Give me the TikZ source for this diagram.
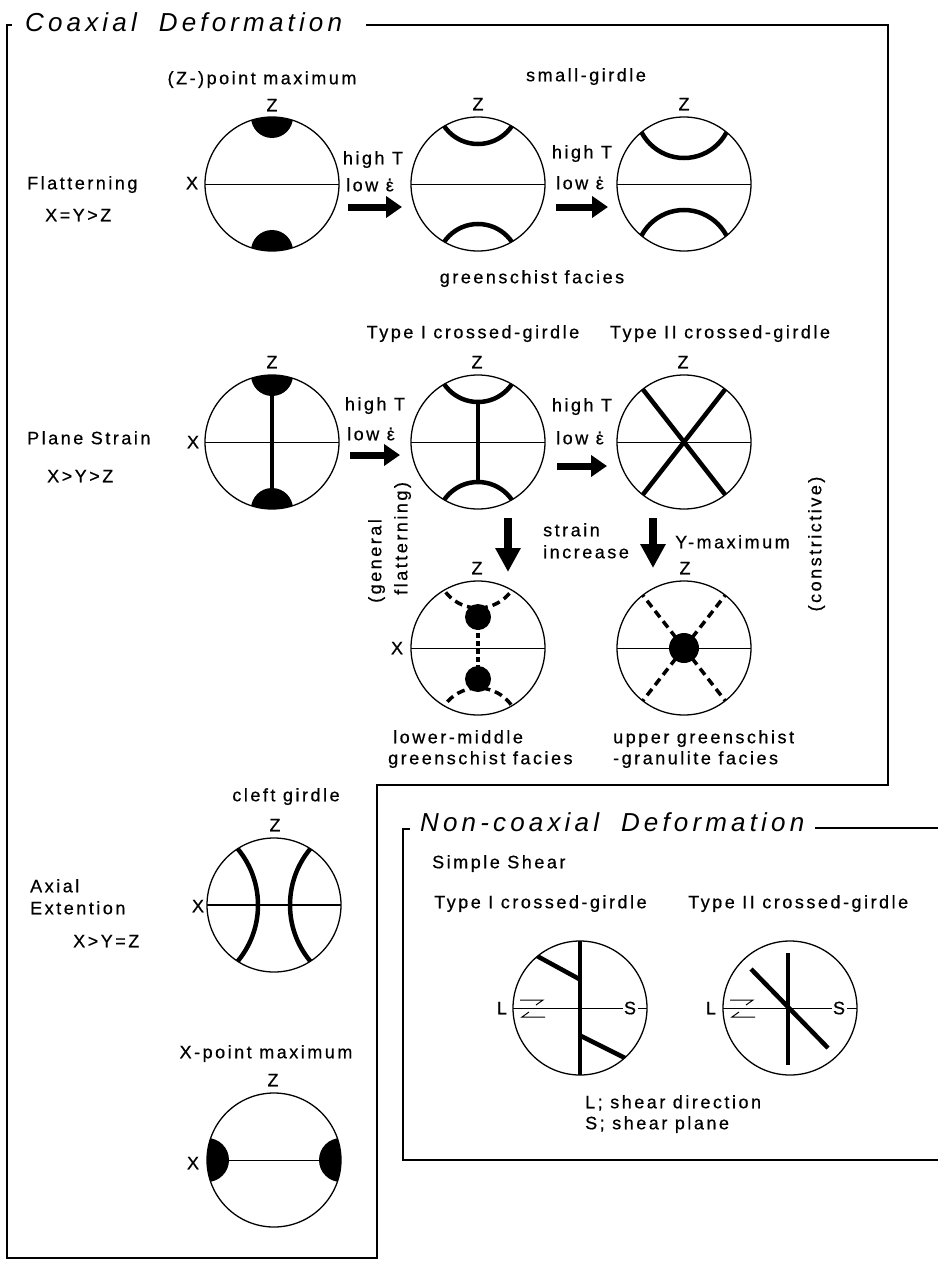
\documentclass[tikz,border=0pt]{standalone}
\usepackage{fontspec}
\setmainfont{Liberation Sans}
\newfontfamily\lab[LetterSpace=14,FakeBold=0.6]{Liberation Sans}
\newfontfamily\ttlfont[LetterSpace=16]{Liberation Sans}
\usetikzlibrary{calc,arrows.meta}
\newcommand\edot{\ooalign{ε\cr\hidewidth\raisebox{0.6em}{.}\hidewidth\cr}}
\newcommand\clipc[1]{\clip (#1.center) circle (67pt);}
\begin{document}
\begin{tikzpicture}[x=1pt,y=-1pt,
  frame/.style={line width=2.2pt},
  stereo/.style={circle,draw,line width=1.3pt,minimum size=134pt,inner sep=0pt,outer sep=0pt},
  diam/.style={line width=1pt},
  girdle/.style={line width=4.5pt},
  dgirdle/.style={line width=3.5pt,dash pattern=on 8pt off 5pt},
  bigarrow/.style={line width=7pt,-{Triangle[length=16pt,width=21pt]}},
  downarrow/.style={line width=8pt,-{Triangle[length=24pt,width=24pt]}},
  lbl/.style={font=\lab\fontsize{18pt}{20pt}\selectfont,inner sep=0pt,text height=12.5pt,text depth=0pt},
  ttl/.style={font=\ttlfont\itshape\fontsize{26pt}{28pt}\selectfont,inner sep=0pt,text height=18.6pt,text depth=0pt},
  harp/.style={line width=1pt}]
\useasboundingbox (0,0) rectangle (938,1263);

% ---------- frames ----------
\node[ttl,anchor=west] (tco) at (25,22) {Coaxial\hspace{22pt}Deformation};
\draw[frame] (366,25) -- (888,25) -- (888,785) -- (377,785) -- (377,1258) -- (7,1258) -- (7,25) -- (12,25);
\node[ttl,anchor=west] (tnc) at (420,822) {Non-coaxial\hspace{22pt}Deformation};
\draw[frame] (815,828) -- (938,828);
\draw[frame] (410,829) -- (403,829) -- (403,1160) -- (938,1160);

% ---------- row 1 ----------
\node[stereo] (c1) at (272,184) {};
\node[stereo] (c2) at (478,184) {};
\node[stereo] (c3) at (684,184) {};
\begin{scope}\clipc{c1}
  \draw[diam] (c1.west) -- (c1.east);
  \fill (c1.north) circle (21pt);
  \fill (c1.south) circle (21pt);
\end{scope}
\begin{scope}\clipc{c2}
  \draw[diam] (c2.west) -- (c2.east);
  \draw[girdle] ($(c2.north)+(0,-14)$) circle (41pt);
  \draw[girdle] ($(c2.south)+(0,14)$) circle (41pt);
\end{scope}
\begin{scope}\clipc{c3}
  \draw[diam] (c3.west) -- (c3.east);
  \draw[girdle] ($(c3.north)+(0,-7)$) circle (48pt);
  \draw[girdle] ($(c3.south)+(0,7)$) circle (48pt);
\end{scope}

% ---------- row 2 ----------
\node[stereo] (c4) at (272,442) {};
\node[stereo] (c5) at (478,442) {};
\node[stereo] (c6) at (684,442) {};
\begin{scope}\clipc{c4}
  \draw[diam] (c4.west) -- (c4.east);
  \draw[girdle] (c4.north) -- (c4.south);
  \fill (c4.north) circle (21pt);
  \fill (c4.south) circle (21pt);
\end{scope}
\begin{scope}\clipc{c5}
  \draw[diam] (c5.west) -- (c5.east);
  \draw[girdle] ($(c5.north)+(0,-14)$) circle (41pt);
  \draw[girdle] ($(c5.south)+(0,14)$) circle (41pt);
  \draw[girdle] ($(c5.north)+(0,27)$) -- ($(c5.south)+(0,-27)$);
\end{scope}
\begin{scope}\clipc{c6}
  \draw[diam] (c6.west) -- (c6.east);
  \draw[girdle] (c6.center) -- +(52:80pt);
  \draw[girdle] (c6.center) -- +(128:80pt);
  \draw[girdle] (c6.center) -- +(232:80pt);
  \draw[girdle] (c6.center) -- +(308:80pt);
\end{scope}

% ---------- row 3 ----------
\node[stereo] (c7) at (478,648) {};
\node[stereo] (c8) at (684,648) {};
\begin{scope}\clipc{c7}
  \draw[diam] (c7.west) -- (c7.east);
  \draw[dgirdle] ($(c7.north)+(0,-14)$) circle (41pt);
  \draw[dgirdle] ($(c7.south)+(0,14)$) circle (41pt);
  \draw[line width=3.5pt,dash pattern=on 5pt off 3pt] ($(c7.center)+(0,-31)$) -- ($(c7.center)+(0,31)$);
  \fill ($(c7.center)+(0,-31)$) circle (13pt);
  \fill ($(c7.center)+(0,31)$) circle (13pt);
\end{scope}
\begin{scope}\clipc{c8}
  \draw[diam] (c8.west) -- (c8.east);
  \draw[dgirdle] (c8.center) -- +(52:80pt);
  \draw[dgirdle] (c8.center) -- +(128:80pt);
  \draw[dgirdle] (c8.center) -- +(232:80pt);
  \draw[dgirdle] (c8.center) -- +(308:80pt);
  \fill (c8.center) circle (15pt);
\end{scope}

% ---------- axial extension ----------
\node[stereo] (c9) at (274,905) {};
\node[stereo] (c10) at (274,1160) {};
\begin{scope}\clipc{c9}
  \draw[line width=1.3pt] (c9.west) -- (c9.east);
  \draw[girdle] ($(c9.center)+(-104,0)$) circle (88pt);
  \draw[girdle] ($(c9.center)+(104,0)$) circle (88pt);
\end{scope}
\begin{scope}\clipc{c10}
  \draw[diam] (c10.west) -- (c10.east);
  \fill (c10.west) circle (22pt);
  \fill (c10.east) circle (22pt);
\end{scope}

% ---------- simple shear ----------
\node[stereo] (s1) at (580,1008) {};
\node[stereo] (s2) at (790,1008) {};
\begin{scope}\clipc{s1}
  \draw[diam] (s1.west) -- (s1.east);
  \draw[girdle] (s1.north) -- (s1.south);
  \draw[girdle] ($(s1.center)+(-43,-52)$) -- ($(s1.center)+(1,-28)$);
  \draw[girdle] ($(s1.center)+(1,28)$) -- ($(s1.center)+(45,50)$);
\end{scope}
\draw[harp] (520,1000) -- (543,1000) -- (536,1005);
\draw[harp] (545,1017) -- (522,1017) -- (529,1012);
\begin{scope}\clipc{s2}
  \draw[diam] (s2.west) -- (s2.east);
  \draw[girdle] ($(s2.center)+(-2,-55)$) -- ($(s2.center)+(-2,57)$);
  \draw[girdle] ($(s2.center)+(-39,-39)$) -- ($(s2.center)+(38,40)$);
\end{scope}
\draw[harp] (730,1000) -- (753,1000) -- (746,1005);
\draw[harp] (755,1017) -- (732,1017) -- (739,1012);
\node[lbl] (L1) at (502,1008) {L};
\node[lbl,fill=white,inner xsep=1.5pt] (S1) at (630,1008) {S};
\node[lbl] (L2) at (711,1008) {L};
\node[lbl,fill=white,inner xsep=1.5pt] (S2) at (839,1008) {S};

% ---------- block arrows ----------
\coordinate (a1s) at (348,207); \coordinate (a1e) at (402,207);
\coordinate (a2s) at (556,207); \coordinate (a2e) at (608,207);
\coordinate (a3s) at (350,455); \coordinate (a3e) at (400,455);
\coordinate (a4s) at (557,466); \coordinate (a4e) at (607,466);
\coordinate (d1s) at (508,518); \coordinate (d1e) at (508,572);
\coordinate (d2s) at (653,518); \coordinate (d2e) at (653,568);
\draw[bigarrow] (a1s) -- (a1e);
\draw[bigarrow] (a2s) -- (a2e);
\draw[bigarrow] (a3s) -- (a3e);
\draw[bigarrow] (a4s) -- (a4e);
\draw[downarrow] (d1s) -- (d1e);
\draw[downarrow] (d2s) -- (d2e);

% ---------- labels ----------
\node[lbl] (zpm) at (262,78) {(Z-)point maximum};
\node[lbl] (sg) at (586,75) {small-girdle};
\node[lbl] (gf1) at (532,277) {greenschist facies};
\node[lbl] (t1) at (473,332) {Type I crossed-girdle};
\node[lbl] (t2) at (720,332) {Type II crossed-girdle};
\node[lbl] (z1) at (272,105) {Z};
\node[lbl] (z2) at (478,104) {Z};
\node[lbl] (z3) at (684,104) {Z};
\node[lbl] (z4) at (272,362) {Z};
\node[lbl] (z5) at (477,362) {Z};
\node[lbl] (z6) at (683,362) {Z};
\node[lbl] (z7) at (477,568) {Z};
\node[lbl] (z8) at (685,568) {Z};
\node[lbl] (z9) at (275,825) {Z};
\node[lbl] (z10) at (273,1080) {Z};
\node[lbl] (x1) at (192,183) {X};
\node[lbl] (x4) at (193,442) {X};
\node[lbl] (x7) at (397,648) {X};
\node[lbl] (x9) at (198,906) {X};
\node[lbl] (x10) at (193,1163) {X};
\node[lbl] (h1) at (373,158) {high T};
\node[lbl] (l1) at (370,185) {low \edot};
\node[lbl] (h2) at (582,152) {high T};
\node[lbl] (l2) at (580,183) {low \edot};
\node[lbl] (h3) at (375,404) {high T};
\node[lbl] (l3) at (371,434) {low \edot};
\node[lbl] (h4) at (582,405) {high T};
\node[lbl] (l4) at (580,438) {low \edot};
\node[lbl,anchor=west] (si1) at (543,530) {strain};
\node[lbl,anchor=west] (si2) at (543,552) {increase};
\node[lbl,anchor=west] (ym) at (675,542) {Y-maximum};
\node[lbl,anchor=west,rotate=90] (gfl1) at (375,603) {(general};
\node[lbl,anchor=west,rotate=90] (gfl2) at (401,595) {flatterning)};
\node[lbl,rotate=90] (con) at (815,544) {(constrictive)};
\node[lbl,anchor=west] (lm1) at (393,737) {lower-middle};
\node[lbl,anchor=west] (lm2) at (388,758) {greenschist facies};
\node[lbl,anchor=west] (ug1) at (613,737) {upper greenschist};
\node[lbl,anchor=west] (ug2) at (613,758) {-granulite facies};
\node[lbl,anchor=west] (fl) at (27,183) {Flatterning};
\node[lbl,anchor=west] (fl2) at (45,215) {X=Y>Z};
\node[lbl,anchor=west] (ps) at (27,438) {Plane Strain};
\node[lbl,anchor=west] (ps2) at (47,476) {X>Y>Z};
\node[lbl] (cg) at (286,795) {cleft girdle};
\node[lbl,anchor=west] (ax1) at (30,886) {Axial};
\node[lbl,anchor=west] (ax2) at (30,908) {Extention};
\node[lbl,anchor=west] (ax3) at (73,941) {X>Y=Z};
\node[lbl] (xpm) at (266,1052) {X-point maximum};
\node[lbl,anchor=west] (ss) at (432,862) {Simple Shear};
\node[lbl,anchor=west] (st1) at (434,902) {Type I crossed-girdle};
\node[lbl,anchor=west] (st2) at (688,902) {Type II crossed-girdle};
\node[lbl,anchor=west] (leg1) at (585,1102) {L; shear direction};
\node[lbl,anchor=west] (leg2) at (585,1123) {S; shear plane};
\end{tikzpicture}
\end{document}
